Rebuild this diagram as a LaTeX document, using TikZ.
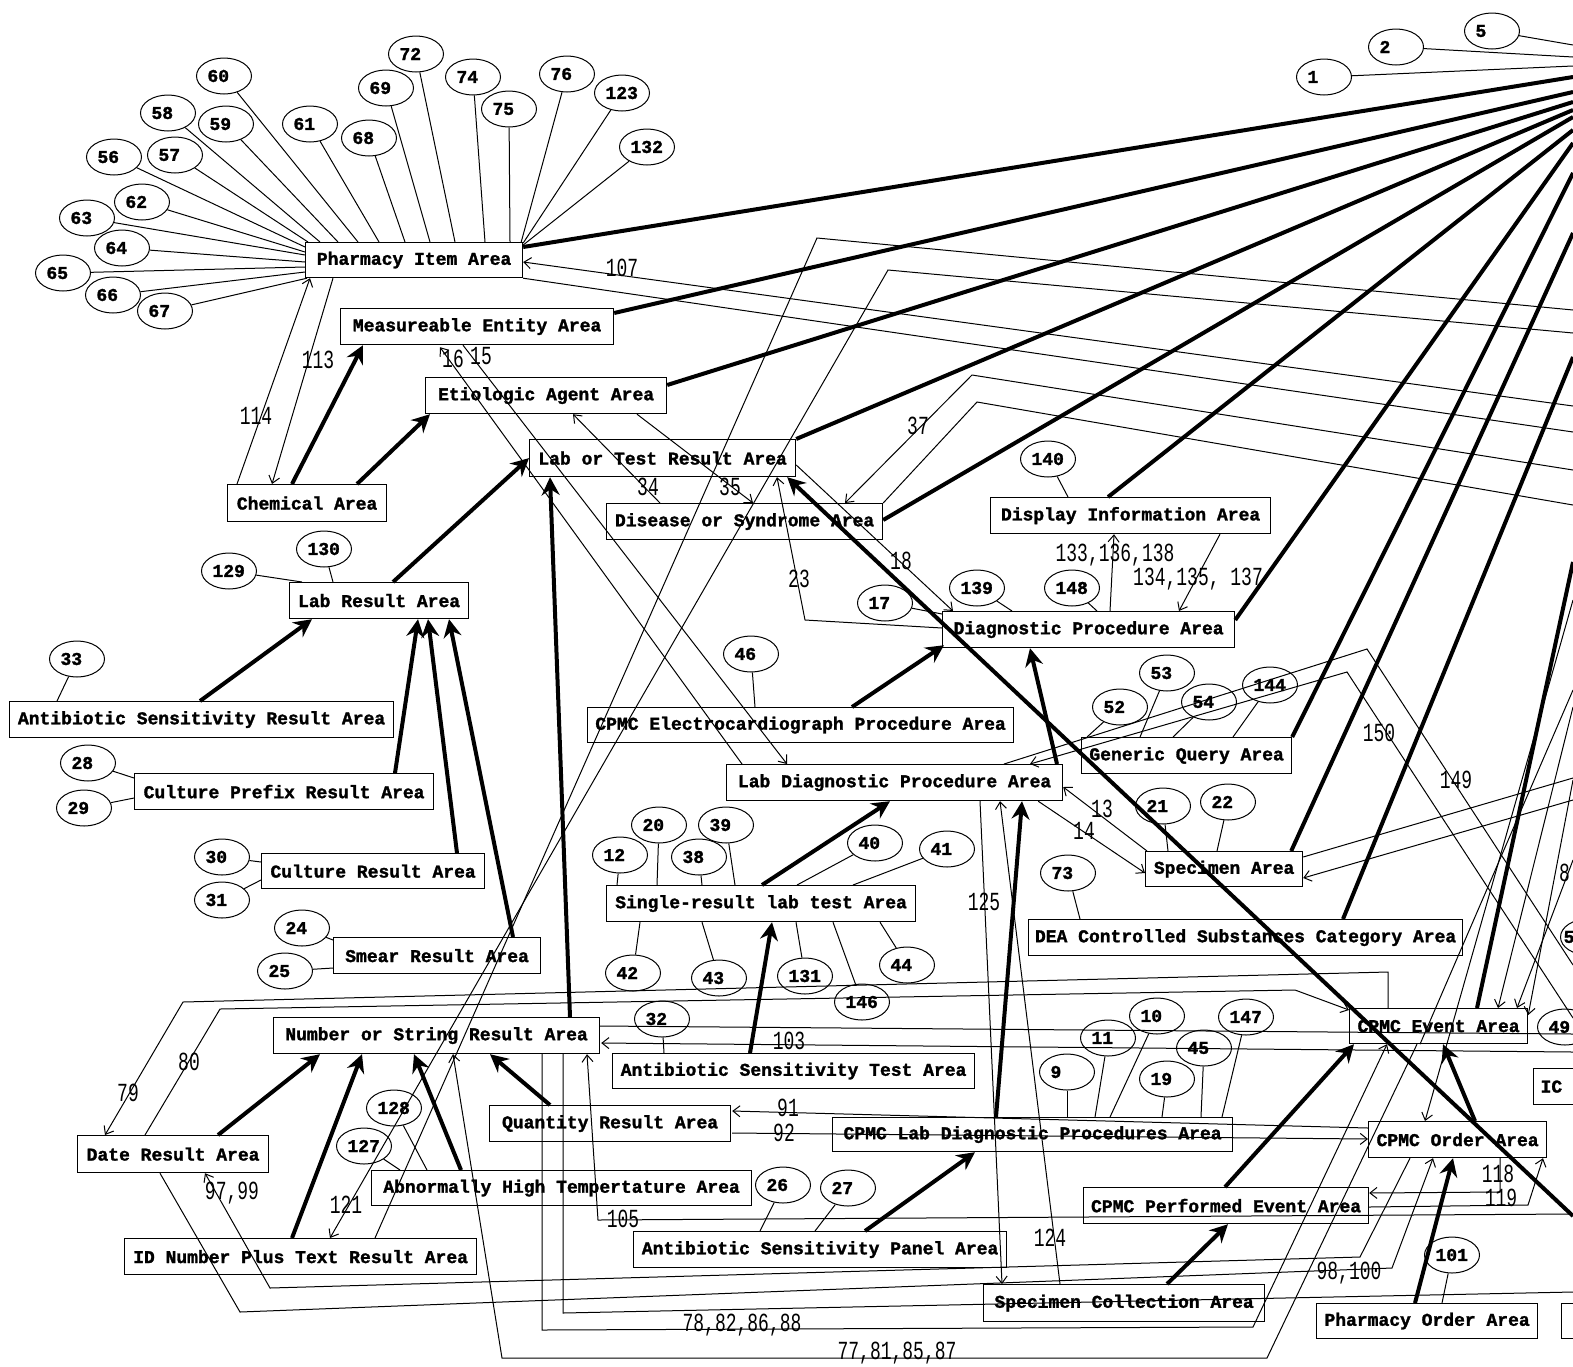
\documentclass[tikz,border=0pt]{standalone}
\usepackage{fontspec}
\usepackage{graphicx}
\setmonofont{Liberation Mono}
\newfontfamily\bxfont{Liberation Mono}[BoldFeatures={FakeBold=1.6}]
\usetikzlibrary{calc,arrows.meta,shapes.geometric}
\newcommand\elltxt[1]{\makebox[33pt][l]{#1}}
\newcommand\lab[1]{\scalebox{1}[1.45]{#1}}
\begin{document}
\begin{tikzpicture}[x=1pt,y=-1pt,
 bx/.style={draw, line width=1.2pt, anchor=north west, inner sep=0pt, minimum height=36pt, font=\bxfont\bfseries\fontsize{18}{18}\selectfont},
 ell/.style={draw, ellipse, line width=1pt, minimum width=55pt, minimum height=36pt, inner sep=0pt, font=\bxfont\bfseries\fontsize{18}{18}\selectfont},
 thk/.style={line width=4pt, -{Stealth[length=18pt,width=18pt,inset=6pt]}},
 hubl/.style={line width=4pt},
 thn/.style={line width=1pt},
 tar/.style={line width=1pt, -{Straight Barb[length=7pt,width=11pt]}},
 lbl/.style={font=\ttfamily\fontsize{18}{18}\selectfont, inner sep=0pt},
]
\useasboundingbox (0,0) rectangle (1573,1366);
\fill[white] (0,0) rectangle (1573,1366);
\clip (0,0) rectangle (1573,1366);

% ---------- boxes ----------
\node[bx, minimum width=217pt, minimum height=35pt] (pia) at (305,242) {Pharmacy Item Area};
\node[bx, minimum width=273pt] (mea) at (340,308) {Measureable Entity Area};
\node[bx, minimum width=241pt] (eti) at (425,377) {Etiologic Agent Area};
\node[bx, minimum width=266pt, minimum height=37pt] (ltr) at (529,439) {Lab or Test Result Area};
\node[bx, minimum width=159pt, minimum height=37pt] (che) at (227,484) {Chemical Area};
\node[bx, minimum width=179pt] (lra) at (289,582) {Lab Result Area};
\node[bx, minimum width=384pt] (asr) at (9,701) {Antibiotic Sensitivity Result Area};
\node[bx, minimum width=299pt] (cpr) at (134,773) {Culture Prefix Result Area};
\node[bx, minimum width=223pt, minimum height=35pt] (cra) at (261,853) {Culture Result Area};
\node[bx, minimum width=207pt] (sme) at (333,937) {Smear Result Area};
\node[bx, minimum width=326pt] (nsr) at (273,1017) {Number or String Result Area};
\node[bx, minimum width=191pt, minimum height=37pt] (dra) at (77,1135) {Date Result Area};
\node[bx, minimum width=352pt] (idn) at (124,1238) {ID Number Plus Text Result Area};
\node[bx, minimum width=380pt, minimum height=35pt] (aht) at (371,1170) {Abnormally High Tempertature Area};
\node[bx, minimum width=241pt] (qra) at (489,1105) {Quantity Result Area};
\node[bx, minimum width=362pt, minimum height=35pt] (ast) at (612,1053) {Antibiotic Sensitivity Test Area};
\node[bx, minimum width=400pt, minimum height=34pt] (cld) at (832,1117) {CPMC Lab Diagnostic Procedures Area};
\node[bx, minimum width=373pt] (asp) at (633,1231) {Antibiotic Sensitivity Panel Area};
\node[bx, minimum width=281pt, minimum height=37pt] (spc) at (983,1284) {Specimen Collection Area};
\node[bx, minimum width=309pt] (srl) at (606,885) {Single-result lab test Area};
\node[bx, minimum width=426pt, minimum height=35pt] (ecg) at (587,707) {CPMC Electrocardiograph Procedure Area};
\node[bx, minimum width=336pt] (ldp) at (726,764) {Lab Diagnostic Procedure Area};
\node[bx, minimum width=276pt] (dsa) at (606,503) {Disease or Syndrome Area};
\node[bx, minimum width=280pt] (dia) at (990,497) {Display Information Area};
\node[bx, minimum width=292pt] (dpa) at (942,611) {Diagnostic Procedure Area};
\node[bx, minimum width=210pt] (gqa) at (1081,737) {Generic Query Area};
\node[bx, minimum width=157pt, minimum height=35pt] (spa) at (1145,851) {Specimen Area};
\node[bx, minimum width=434pt] (dea) at (1028,919) {DEA Controlled Substances Category Area};
\node[bx, minimum width=178pt, minimum height=35pt] (evt) at (1349,1008) {CPMC Event Area};
\node[bx, minimum width=178pt] (ord) at (1368,1121) {CPMC Order Area};
\node[bx, minimum width=285pt] (pev) at (1083,1187) {CPMC Performed Event Area};
\node[bx, minimum width=221pt, minimum height=35pt] (pho) at (1316,1303) {Pharmacy Order Area};
\node[bx, text width=66pt, align=left, inner xsep=7pt] (icd) at (1533,1068) {IC};
\node[bx, minimum width=40pt, minimum height=35pt] (prt) at (1561,1303) {};

% ---------- ellipses ----------
\foreach \n/\x/\y in {60/224/76,58/168/113,59/226/124,56/114/157,57/175/155,62/142/202,63/87/218,64/122/248,65/63/273,66/113/295,67/165/311,61/310/124,68/369/138,69/386/88,72/416/54,74/473/77,75/509/109,76/567/74,123/622/93,132/647/147,1/1324/77,2/1396/47,5/1492/31,140/1048/459,139/977/588,148/1072/588,17/885/603,46/751/654,129/229/571,130/324/549,33/77/659,28/88/763,29/84/808,30/222/857,31/222/900,24/302/928,25/285/971,128/394/1108,127/364/1146,12/620/855,20/659/825,38/699/857,39/726/825,40/875/843,41/947/849,42/633/973,43/719/978,131/805/976,146/862/1002,44/907/965,32/662/1019,26/783/1185,27/848/1188,73/1068/873,53/1167/673,52/1120/707,54/1209/702,144/1270/685,21/1163/806,22/1228/802,9/1067/1072,11/1108/1038,10/1157/1016,19/1167/1079,45/1204/1048,147/1246/1017,101/1452/1255,49/1565/1027}
  {\node[ell] (e\n) at (\x,\y) {\elltxt{\n}};}
\node[ell] (e5b) at (1588,937) {\hspace*{-38pt}5};

% ---------- off-picture ends ----------
\coordinate (oe1) at (1573,66);
\coordinate (oe2) at (1573,57);
\coordinate (oe5) at (1573,45);
\coordinate (o1) at (1573,77);
\coordinate (o2) at (1573,92);
\coordinate (o3) at (1573,102);
\coordinate (o4) at (1573,110);
\coordinate (o5) at (1573,117);
\coordinate (o6) at (1573,130);
\coordinate (o7) at (1573,143);
\coordinate (o8) at (1573,173);
\coordinate (o9) at (1573,233);
\coordinate (o10) at (1573,357);
\coordinate (o11) at (1573,562);
\coordinate (oA) at (1573,1216);
\coordinate (o107) at (1573,406);
\coordinate (opb) at (1573,432);
\coordinate (o37) at (1573,470);
\coordinate (ou1) at (1573,505);
\coordinate (o817) at (1573,310);
\coordinate (o121) at (1573,333);
\coordinate (o149) at (1573,965);
\coordinate (o150) at (1573,1018);
\coordinate (o105) at (1573,1214);
\coordinate (ox) at (1573,1292);
\coordinate (ons) at (1573,1034);
\coordinate (o103) at (1573,1052);
\coordinate (osp1) at (1573,778);
\coordinate (osp2) at (1573,800);
\coordinate (oord) at (1573,600);
\coordinate (oev1) at (1573,707);
\coordinate (oev2) at (1573,780);
\coordinate (oev8) at (1573,860);
\coordinate (od) at (1573,690);

% ---------- ellipse connectors ----------
\draw[thn] (e56) -- ($(pia.north west)+(0,5)$);
\draw[thn] (e57) -- ($(pia.north west)+(3,0)$);
\draw[thn] (e58) -- ($(pia.north west)+(15,0)$);
\draw[thn] (e59) -- ($(pia.north west)+(33,0)$);
\draw[thn] (e60) -- ($(pia.north west)+(53,0)$);
\draw[thn] (e61) -- ($(pia.north west)+(74,0)$);
\draw[thn] (e68) -- ($(pia.north west)+(100,0)$);
\draw[thn] (e69) -- ($(pia.north west)+(125,0)$);
\draw[thn] (e72) -- ($(pia.north west)+(150,0)$);
\draw[thn] (e74) -- ($(pia.north west)+(180,0)$);
\draw[thn] (e75) -- ($(pia.north west)+(205,0)$);
\draw[thn] (e76) -- ($(pia.north east)+(-2,0)$);
\draw[thn] (e123) -- ($(pia.north east)+(0,1)$);
\draw[thn] (e132) -- ($(pia.north east)+(0,3)$);
\draw[thn] (e62) -- ($(pia.north west)+(0,10)$);
\draw[thn] (e63) -- ($(pia.north west)+(0,13)$);
\draw[thn] (e64) -- ($(pia.north west)+(0,20)$);
\draw[thn] (e65) -- ($(pia.north west)+(0,25)$);
\draw[thn] (e66) -- ($(pia.north west)+(0,30)$);
\draw[thn] (e67) -- ($(pia.south west)+(2,0)$);
\draw[thn] (e1) -- (oe1);
\draw[thn] (e2) -- (oe2);
\draw[thn] (e5) -- (oe5);
\draw[thn] (e140) -- ($(dia.north west)+(78,0)$);
\draw[thn] (e139) -- ($(dpa.north west)+(70,0)$);
\draw[thn] (e148) -- ($(dpa.north west)+(155,0)$);
\draw[thn] (e17) -- ($(dpa.north west)+(0,3)$);
\draw[thn] (e46) -- ($(ecg.north west)+(168,0)$);
\draw[thn] (e129) -- ($(lra.north west)+(13,0)$);
\draw[thn] (e130) -- ($(lra.north west)+(44,0)$);
\draw[thn] (e33) -- ($(asr.north west)+(48,0)$);
\draw[thn] (e28) -- ($(cpr.north west)+(0,5)$);
\draw[thn] (e29) -- ($(cpr.north west)+(0,25)$);
\draw[thn] (e30) -- ($(cra.north west)+(0,9)$);
\draw[thn] (e31) -- ($(cra.north west)+(0,27)$);
\draw[thn] (e24) -- ($(sme.north west)+(0,3)$);
\draw[thn] (e25) -- ($(sme.north west)+(0,31)$);
\draw[thn] (e128) -- ($(aht.north west)+(56,0)$);
\draw[thn] (e127) -- ($(aht.north west)+(29,0)$);
\draw[thn] (e12) -- ($(srl.north west)+(11,0)$);
\draw[thn] (e20) -- ($(srl.north west)+(51,0)$);
\draw[thn] (e38) -- ($(srl.north west)+(96,0)$);
\draw[thn] (e39) -- ($(srl.north west)+(129,0)$);
\draw[thn] (e40) -- ($(srl.north west)+(191,0)$);
\draw[thn] (e41) -- ($(srl.north west)+(247,0)$);
\draw[thn] (e42) -- ($(srl.south west)+(34,0)$);
\draw[thn] (e43) -- ($(srl.south west)+(96,0)$);
\draw[thn] (e131) -- ($(srl.south west)+(190,0)$);
\draw[thn] (e146) -- ($(srl.south west)+(227,0)$);
\draw[thn] (e44) -- ($(srl.south west)+(274,0)$);
\draw[thn] (e32) -- ($(ast.north west)+(52,0)$);
\draw[thn] (e26) -- ($(asp.north west)+(127,0)$);
\draw[thn] (e27) -- ($(asp.north west)+(182,0)$);
\draw[thn] (e73) -- ($(dea.north west)+(52,0)$);
\draw[thn] (e53) -- ($(gqa.north west)+(59,0)$);
\draw[thn] (e52) -- ($(gqa.north west)+(6,0)$);
\draw[thn] (e54) -- ($(gqa.north west)+(92,0)$);
\draw[thn] (e144) -- ($(gqa.north west)+(152,0)$);
\draw[thn] (e21) -- ($(spa.north west)+(23,0)$);
\draw[thn] (e22) -- ($(spa.north west)+(72,0)$);
\draw[thn] (e9) -- ($(cld.north west)+(235,0)$);
\draw[thn] (e11) -- ($(cld.north west)+(263,0)$);
\draw[thn] (e10) -- ($(cld.north west)+(278,0)$);
\draw[thn] (e19) -- ($(cld.north west)+(330,0)$);
\draw[thn] (e45) -- ($(cld.north west)+(369,0)$);
\draw[thn] (e147) -- ($(cld.north west)+(390,0)$);
\draw[thn] (e101) -- ($(pho.north west)+(126,0)$);

% ---------- thick lines to the hub on the right ----------
\draw[hubl] ($(pia.north east)+(0,5)$) -- (o1);
\draw[hubl] ($(mea.north east)+(0,5)$) -- (o2);
\draw[hubl] ($(eti.north east)+(0,8)$) -- (o3);
\draw[hubl] (ltr.north east) -- (o4);
\draw[hubl] ($(dsa.north east)+(0,17)$) -- (o5);
\draw[hubl] ($(dia.north west)+(118,0)$) -- (o6);
\draw[hubl] ($(dpa.north east)+(0,9)$) -- (o7);
\draw[hubl] (gqa.north east) -- (o8);
\draw[hubl] ($(spa.north east)+(-12,0)$) -- (o9);
\draw[hubl] ($(dea.north west)+(315,0)$) -- (o10);
\draw[hubl] ($(evt.north west)+(128,0)$) -- (o11);

% ---------- thick arrows ----------
\draw[thk] ($(che.north west)+(65,0)$) -- ($(mea.south west)+(23,0)$);
\draw[thk] ($(che.north west)+(130,0)$) -- ($(eti.south west)+(5,0)$);
\draw[thk] ($(lra.north west)+(104,0)$) -- (ltr.west);
\draw[thk] ($(asr.north west)+(191,0)$) -- ($(lra.south west)+(23,0)$);
\draw[thk] ($(cpr.north west)+(261,0)$) -- ($(lra.south west)+(129,0)$);
\draw[thk] ($(cra.north west)+(196,0)$) -- ($(lra.south west)+(139,0)$);
\draw[thk] ($(sme.north west)+(180,0)$) -- ($(lra.south west)+(160,0)$);
\draw[thk] ($(nsr.north west)+(297,0)$) -- ($(ltr.south west)+(21,0)$);
\draw[thk] ($(dra.north west)+(141,0)$) -- ($(nsr.south west)+(47,0)$);
\draw[thk] ($(idn.north west)+(168,0)$) -- ($(nsr.south west)+(89,0)$);
\draw[thk] ($(aht.north west)+(90,0)$) -- ($(nsr.south west)+(141,0)$);
\draw[thk] ($(qra.north west)+(61,0)$) -- ($(nsr.south west)+(217,0)$);
\draw[thk] ($(ast.north west)+(138,0)$) -- ($(srl.south west)+(166,0)$);
\draw[thk] ($(srl.north west)+(156,0)$) -- ($(ldp.south west)+(164,0)$);
\draw[thk] ($(ecg.north west)+(265,0)$) -- ($(dpa.south west)+(2,-3)$);
\draw[thk] ($(ldp.north west)+(331,0)$) -- ($(dpa.south west)+(88,0)$);
\draw[thk] ($(cld.north west)+(164,0)$) -- ($(ldp.south west)+(296,0)$);
\draw[thk] ($(asp.north west)+(232,0)$) -- ($(cld.south west)+(143,0)$);
\draw[thk] ($(spc.north west)+(184,0)$) -- ($(pev.south west)+(145,0)$);
\draw[thk] ($(pev.north west)+(142,0)$) -- ($(evt.south west)+(5,0)$);
\draw[thk] ($(ord.north west)+(107,0)$) -- ($(evt.south west)+(94,0)$);
\draw[thk] ($(pho.north west)+(99,0)$) -- ($(ord.south west)+(85,0)$);
\draw[thk] (oA) -- ($(ltr.south east)+(-9,0)$);

% ---------- thin connectors ----------
\draw[tar] ($(pia.south west)+(28,0)$) -- ($(che.north west)+(45,0)$);
\draw[tar] ($(che.north west)+(10,0)$) -- ($(pia.south west)+(5,0)$);
\draw[tar] (o107) -- ($(pia.north east)+(0,20)$);
\draw[thn] (pia.south east) -- (opb);
\draw[tar] ($(ldp.north west)+(16,0)$) -- ($(mea.south west)+(100,2)$);
\draw[tar] ($(mea.south west)+(123,0)$) -- ($(ldp.north west)+(61,0)$);
\draw[tar] ($(dsa.north west)+(54,0)$) -- ($(eti.south west)+(148,0)$);
\draw[tar] ($(eti.south west)+(212,0)$) -- ($(dsa.north west)+(147,0)$);
\draw[tar] (o37) -- (972,375) -- ($(dsa.north west)+(239,0)$);
\draw[thn] (ou1) -- (977,402) -- (dsa.north east);
\draw[tar] ($(ltr.north east)+(0,26)$) -- ($(dpa.north west)+(11,0)$);
\draw[tar] ($(dpa.north west)+(0,17)$) -- (805,620) -- ($(ltr.south west)+(248,0)$);
\draw[thn] ($(idn.north west)+(251,0)$) -- (817,238) -- (o817);
\draw[tar] (o121) -- (888,270) -- ($(idn.north west)+(206,0)$);
\draw[tar] ($(dpa.north west)+(168,0)$) -- ($(dia.south west)+(124,0)$);
\draw[tar] ($(dia.south west)+(230,0)$) -- ($(dpa.north west)+(237,0)$);
\draw[tar] ($(spa.north west)+(2,0)$) -- ($(ldp.north east)+(0,23)$);
\draw[tar] ($(ldp.south east)+(-25,0)$) -- ($(spa.north west)+(0,22)$);
\draw[thn] ($(ldp.north west)+(278,0)$) -- (1367,649) -- (o149);
\draw[tar] (o150) -- (1347,672) -- ($(ldp.north west)+(304,0)$);
\draw[tar] ($(ldp.south west)+(254,0)$) -- ($(spc.north west)+(19,0)$);
\draw[tar] ($(spc.north west)+(77,0)$) -- ($(ldp.south west)+(274,0)$);
\draw[tar] ($(ord.north west)+(0,7)$) -- ($(qra.north east)+(1,6)$);
\draw[tar] ($(qra.north east)+(1,28)$) -- ($(ord.north west)+(0,18)$);
\draw[tar] ($(ord.south west)+(132,0)$) -- (1500,1192) -- ($(pev.north east)+(0,6)$);
\draw[tar] ($(pev.north east)+(0,20)$) -- (1528,1205) -- ($(ord.south west)+(175,0)$);
\draw[tar] ($(ord.south west)+(42,0)$) -- (1360,1257) -- (270,1288) -- ($(dra.south west)+(128,0)$);
\draw[tar] ($(dra.south west)+(83,0)$) -- (240,1312) -- (1392,1268) -- ($(ord.south west)+(65,0)$);
\draw[tar] ($(evt.south west)+(68,0)$) -- (1267,1358) -- (502,1358) -- ($(nsr.south west)+(180,0)$);
\draw[tar] ($(nsr.south west)+(269,0)$) -- (542,1330) -- (1253,1327) -- ($(evt.south west)+(38,0)$);
\draw[tar] (o105) -- (598,1220) -- ($(nsr.south west)+(314,0)$);
\draw[thn] ($(nsr.south west)+(290,0)$) -- (563,1313) -- (ox);
\draw[tar] ($(evt.north west)+(39,0)$) -- (1388,972) -- (183,1002) -- ($(dra.north west)+(28,0)$);
\draw[tar] ($(dra.north west)+(68,0)$) -- (220,1009) -- (1295,990) -- ($(evt.north west)+(0,2)$);
\draw[thn] ($(nsr.north east)+(0,9)$) -- (ons);
\draw[tar] (o103) -- ($(nsr.north east)+(1,26)$);
\draw[thn] ($(spa.north east)+(0,6)$) -- (osp1);
\draw[tar] (osp2) -- ($(spa.north east)+(0,27)$);
\draw[tar] (oord) -- ($(ord.north west)+(57,0)$);
\draw[tar] (oev1) -- ($(evt.north west)+(149,0)$);
\draw[tar] (oev2) -- ($(evt.north east)+(0,7)$);
\draw[tar] (oev8) -- ($(evt.north west)+(168,0)$);
\draw[thn] (od) -- ($(evt.south west)+(71,0)$);

% ---------- connector labels ----------
\node[lbl] (l113) at (318,360) {\lab{113}};
\node[lbl] (l114) at (256,416) {\lab{114}};
\node[lbl] (l107) at (622,268) {\lab{107}};
\node[lbl] (l16) at (453,359) {\lab{16}};
\node[lbl] (l15) at (481,356) {\lab{15}};
\node[lbl] (l34) at (648,487) {\lab{34}};
\node[lbl] (l35) at (730,487) {\lab{35}};
\node[lbl] (l37) at (918,426) {\lab{37}};
\node[lbl] (l18) at (901,561) {\lab{18}};
\node[lbl] (l23) at (799,579) {\lab{23}};
\node[lbl] (l121) at (346,1205) {\lab{121}};
\node[lbl] (l133) at (1115,555) {\lab{133,136,138}};
\node[lbl] (l134) at (1198,579) {\lab{134,135, 137}};
\node[lbl] (l13) at (1102,809) {\lab{13}};
\node[lbl] (l14) at (1084,831) {\lab{14}};
\node[lbl] (l150) at (1379,733) {\lab{150}};
\node[lbl] (l149) at (1456,780) {\lab{149}};
\node[lbl] (l125) at (984,902) {\lab{125}};
\node[lbl] (l124) at (1050,1238) {\lab{124}};
\node[lbl] (l91) at (788,1108) {\lab{91}};
\node[lbl] (l92) at (784,1133) {\lab{92}};
\node[lbl] (l118) at (1498,1174) {\lab{118}};
\node[lbl] (l119) at (1501,1198) {\lab{119}};
\node[lbl] (l97) at (232,1193) {\lab{97,99}};
\node[lbl] (l98) at (1349,1273) {\lab{98,100}};
\node[lbl] (l77) at (897,1353) {\lab{77,81,85,87}};
\node[lbl] (l78) at (742,1325) {\lab{78,82,86,88}};
\node[lbl] (l105) at (623,1219) {\lab{105}};
\node[lbl] (l79) at (128,1093) {\lab{79}};
\node[lbl] (l80) at (189,1062) {\lab{80}};
\node[lbl] (l103) at (789,1041) {\lab{103}};
\node[lbl, anchor=west] (l8) at (1559,873) {\lab{8}};
\end{tikzpicture}
\end{document}
